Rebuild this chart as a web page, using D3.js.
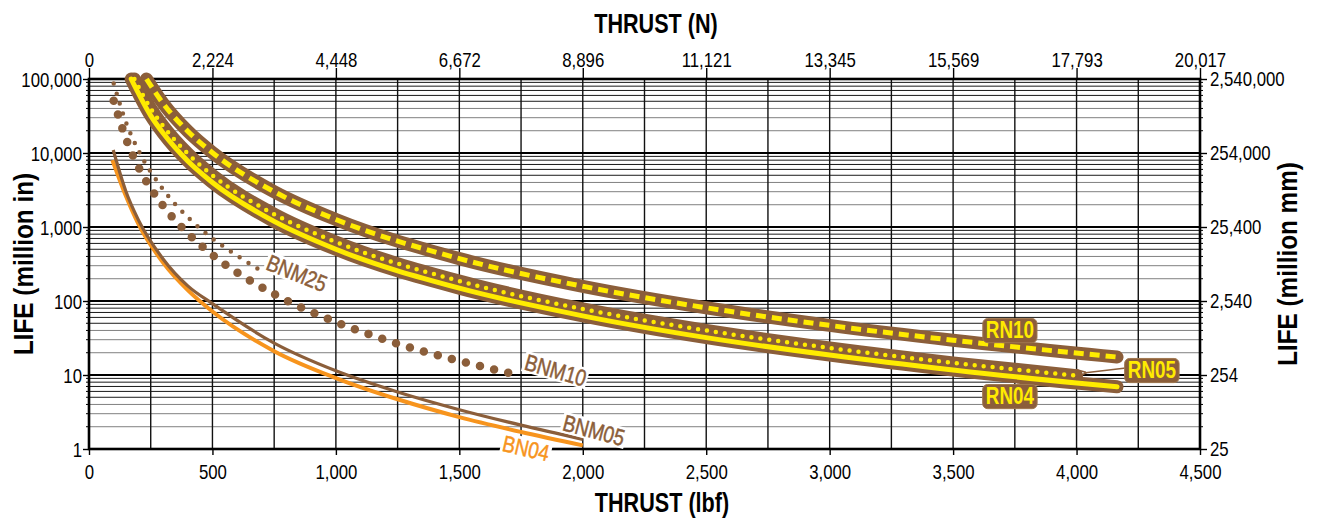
<!DOCTYPE html>
<html>
<head>
<meta charset="UTF-8">
<script src="https://d3js.org/d3.v7.min.js"></script>
<style>
  * { margin: 0; padding: 0; }
  body { background: #fff; width: 1318px; height: 518px; overflow: hidden; }
  svg { display: block; font-family: "Liberation Sans", Arial, sans-serif; }
  .tick text { font-size: 20px; fill: #000; }
  .domain { display: none; }
</style>
</head>
<body>
<svg id="chart" width="1318" height="518"></svg>
<script>
// thrust (lbf) / life (million in)
const bn04  = [[95, 8000], [150, 2600], [200, 1100], [300, 330], [400, 140], [500, 72], [750, 21], [1000, 9.1], [1250, 4.7], [1500, 2.7], [1750, 1.7], [2000, 1.12]];
const bnm05 = [[98, 11000], [150, 3000], [200, 1250], [300, 370], [400, 160], [500, 92], [750, 27], [1000, 11.4], [1250, 5.9], [1500, 3.4], [1750, 2.1], [2000, 1.35]];
const bnm10 = [[100, 51000], [150, 15500], [200, 6500], [300, 1940], [400, 820], [500, 420], [750, 124], [1000, 52], [1250, 26.5], [1500, 15.5], [1738, 10]];
const bnm25 = [[100, 87000], [150, 25800], [200, 10900], [300, 3230], [400, 1360], [500, 700], [600, 410], [690, 265]];
const rn10  = [[233, 100000], [300, 46800], [400, 19700], [500, 10100], [750, 3000], [1000, 1264], [1500, 374], [2000, 158], [2500, 81], [3000, 46.8], [3500, 29.5], [4164, 17.5]];
const rn05  = [[184, 100000], [250, 40000], [300, 23200], [400, 9800], [500, 5000], [750, 1490], [1000, 627], [1500, 186], [2000, 78], [2500, 40], [3000, 23.2], [3500, 14.6], [4000, 9.8]];
const rn04  = [[171, 100000], [250, 32000], [300, 18600], [400, 7800], [500, 4000], [750, 1190], [1000, 500], [1500, 149], [2000, 63], [2500, 32], [3000, 18.6], [3500, 11.7], [4000, 7.8], [4164, 6.95]];

const lbfTicks = [0, 500, 1000, 1500, 2000, 2500, 3000, 3500, 4000, 4500];
const newtonLabels = ['0', '2,224', '4,448', '6,672', '8,896', '11,121', '13,345', '15,569', '17,793', '20,017'];
const lifeTicks = [1, 10, 100, 1000, 10000, 100000];
const mmLabels = ['25', '254', '2,540', '25,400', '254,000', '2,540,000'];

const BROWN = '#8b5e3a', YELLOW = '#ffeb00', ORANGE = '#f7941d';
const NARROW = 0.84; // squeeze for an Arial Narrow look

(function() {
const svg = d3.select('#chart');
svg.append('rect').attr('width', 1318).attr('height', 518).attr('fill', '#fff');

const x = d3.scaleLinear().domain([0, 4500]).range([89, 1200]);
const y = d3.scaleLog().domain([1, 100000]).range([449, 79]);

// grid
const grid = svg.append('g');
const minorVals = [];
lifeTicks.slice(0, -1).forEach(d => { for (let m = 2; m <= 9; m++) minorVals.push(d * m); });
grid.selectAll('line.minor').data(minorVals).join('line')
  .attr('x1', x(0)).attr('x2', x(4500))
  .attr('y1', d => y(d)).attr('y2', d => y(d))
  .attr('stroke', d => { const m = Math.round(d / Math.pow(10, Math.floor(Math.log10(d) + 1e-9))); return m <= 4 ? '#808080' : '#1a1a1a'; })
  .attr('stroke-width', 1);
grid.selectAll('line.vert').data(d3.range(250, 4500, 250)).join('line')
  .attr('x1', d => x(d)).attr('x2', d => x(d))
  .attr('y1', y(100000)).attr('y2', y(1))
  .attr('stroke', '#111').attr('stroke-width', 1.4);
grid.selectAll('line.dec').data(lifeTicks.slice(1, -1)).join('line')
  .attr('x1', x(0)).attr('x2', x(4500))
  .attr('y1', d => y(d)).attr('y2', d => y(d))
  .attr('stroke', '#000').attr('stroke-width', 2.2);

// frame
svg.append('rect').attr('x', x(0)).attr('y', y(100000))
  .attr('width', x(4500) - x(0)).attr('height', y(1) - y(100000))
  .attr('fill', 'none').attr('stroke', '#000').attr('stroke-width', 2.6);

// axes
const axBottom = svg.append('g').attr('transform', `translate(0,${y(1)})`)
  .call(d3.axisBottom(x).tickValues(lbfTicks).tickFormat(d3.format(',')).tickSize(6).tickSizeOuter(0));
axBottom.selectAll('.tick text').attr('y', 14).attr('dy', '0.8em');
const axTop = svg.append('g').attr('transform', `translate(0,${y(100000)})`)
  .call(d3.axisTop(x).tickValues(lbfTicks).tickFormat((d, i) => newtonLabels[i]).tickSize(11).tickSizeOuter(0));
axTop.selectAll('.tick text').attr('y', -12).attr('dy', '0');
const axLeft = svg.append('g').attr('transform', `translate(${x(0)},0)`)
  .call(d3.axisLeft(y).tickValues(lifeTicks).tickFormat(d3.format(',')).tickSize(6).tickSizeOuter(0));
axLeft.selectAll('.tick text').attr('x', -7 / NARROW).attr('dy', '0.36em');
const axRight = svg.append('g').attr('transform', `translate(${x(4500)},0)`)
  .call(d3.axisRight(y).tickValues(lifeTicks).tickFormat((d, i) => mmLabels[i]).tickSize(7).tickSizeOuter(0));
axRight.selectAll('.tick text').attr('x', 10 / NARROW).attr('dy', '0.3em');
svg.selectAll('.tick text').attr('transform', `scale(${NARROW},1)`);
svg.selectAll('.tick line').attr('stroke', '#000').attr('stroke-width', 1.4);

// minor ticks on the side axes
[[x(0), -3], [x(4500), 3]].forEach(([px, len]) => {
  svg.append('g').selectAll('line').data(minorVals).join('line')
    .attr('x1', px).attr('x2', px + len)
    .attr('y1', d => y(d)).attr('y2', d => y(d))
    .attr('stroke', '#000').attr('stroke-width', 1);
});

// titles
const title = (txt, tx, ty, rot, sx) => svg.append('text')
  .attr('transform', `translate(${tx},${ty}) rotate(${rot}) scale(${sx},1)`)
  .attr('text-anchor', 'middle').attr('font-size', 27).attr('font-weight', 'bold')
  .text(txt);
title('THRUST (N)', 656, 33, 0, 0.8);
title('THRUST (lbf)', 662, 512, 0, 0.8);
title('LIFE (million in)', 33, 264, -90, 0.9);
title('LIFE (million mm)', 1297, 264, -90, 0.9);

// curves
const line = d3.line().x(d => x(d[0])).y(d => y(d[1])).curve(d3.curveMonotoneX);
const curves = svg.append('g').attr('fill', 'none');
const path = (data, color, width, dash, cap) => curves.append('path')
  .attr('d', line(data)).attr('stroke', color).attr('stroke-width', width)
  .attr('stroke-dasharray', dash || null).attr('stroke-linecap', cap || 'butt')
  .attr('stroke-linejoin', 'round');

path(bn04, ORANGE, 4);
path(bnm05, BROWN, 3.2);
path(bnm25, BROWN, 4.5, '0 10.5', 'round');
path(bnm10, BROWN, 8.5, '0 14.5', 'round');

path(rn10, BROWN, 13, null, 'round');
path(rn10, YELLOW, 5, '10 6');
path(rn05, BROWN, 13, null, 'round');
path(rn04, BROWN, 13, null, 'round');
path(rn05, YELLOW, 4.5, '0 9', 'round');
path(rn04, YELLOW, 5, null, 'round');

// labels
const BN_LABELS = [
  { text: 'BNM25', at: [842, 239], rot: 22, color: BROWN },
  { text: 'BNM10', at: [1890, 11.7], rot: 16, color: BROWN },
  { text: 'BNM05', at: [2045, 1.8], rot: 15, color: BROWN },
  { text: 'BN04', at: [1770, 1.03], rot: 13, color: ORANGE }
];
BN_LABELS.forEach(l => {
  const g = svg.append('g').attr('transform', `translate(${x(l.at[0])},${y(l.at[1])}) rotate(${l.rot}) scale(0.82,1)`);
  const bg = g.append('rect').attr('fill', '#fff');
  const t = g.append('text').attr('text-anchor', 'middle').attr('dy', '0.36em')
    .attr('font-size', 23).attr('fill', l.color).attr('stroke', l.color).attr('stroke-width', 0.5)
    .text(l.text);
  const b = t.node().getBBox();
  bg.attr('x', b.x - 2).attr('y', b.y + 2).attr('width', b.width + 4).attr('height', b.height - 4);
});

const RN_LABELS = [
  { text: 'RN10', at: [3730, 40.5] },
  { text: 'RN05', at: [4305, 11.7] },
  { text: 'RN04', at: [3730, 5.2] }
];
// arrow RN05 label -> end of RN05 curve
const rnEnd = rn05[rn05.length - 1];
svg.append('defs').append('marker').attr('id', 'arr').attr('viewBox', '0 0 10 10')
  .attr('refX', 1).attr('refY', 5).attr('markerWidth', 7).attr('markerHeight', 7).attr('orient', 'auto-start-reverse')
  .append('path').attr('d', 'M10,1 L0,5 L10,9').attr('fill', 'none').attr('stroke', BROWN).attr('stroke-width', 1.5);
svg.append('line')
  .attr('x1', x(4305) - 26).attr('y1', y(11.7) - 2)
  .attr('x2', x(rnEnd[0]) + 9).attr('y2', y(rnEnd[1]) - 3)
  .attr('stroke', BROWN).attr('stroke-width', 1.5).attr('marker-end', 'url(#arr)');

RN_LABELS.forEach(l => {
  const g = svg.append('g').attr('transform', `translate(${x(l.at[0])},${y(l.at[1])})`);
  const bg = g.append('rect').attr('fill', BROWN).attr('stroke', '#a07850').attr('stroke-width', 1).attr('rx', 5);
  const t = g.append('text').attr('text-anchor', 'middle').attr('dy', '0.36em')
    .attr('transform', 'scale(0.82,1)')
    .attr('font-size', 23).attr('font-weight', 'bold').attr('fill', YELLOW).text(l.text);
  const b = t.node().getBBox();
  const w = b.width * 0.82;
  bg.attr('x', -w / 2 - 3).attr('y', b.y + 1).attr('width', w + 6).attr('height', b.height - 1);
});
})();
</script>
</body>
</html>
